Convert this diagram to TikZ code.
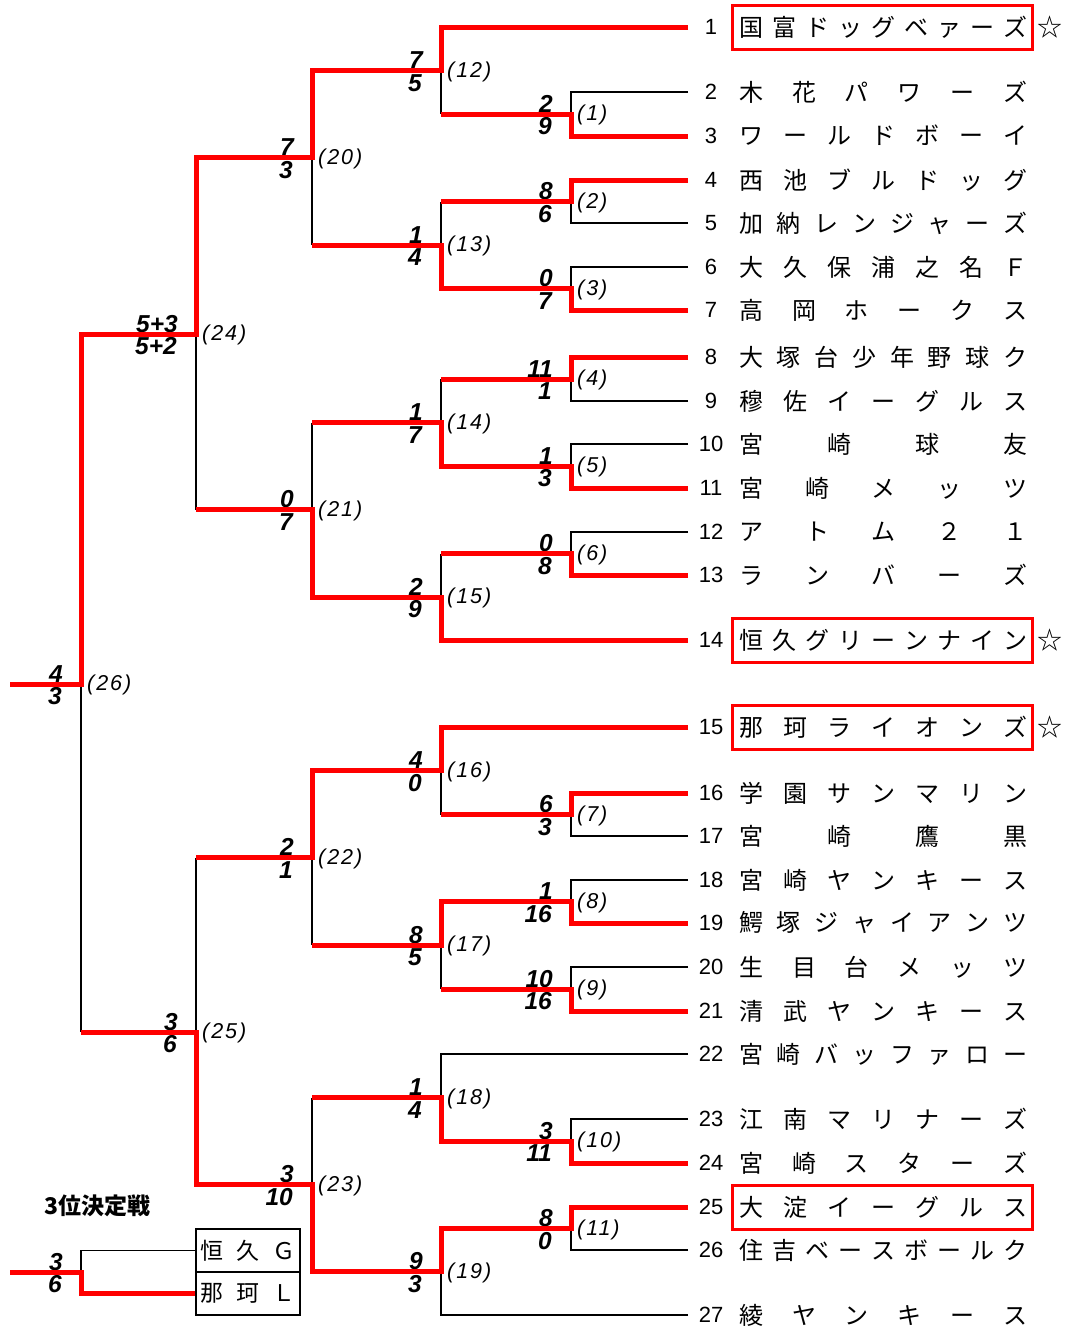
\documentclass[tikz,border=0pt]{standalone}
\usepackage{fontspec}
\setmainfont{Liberation Sans}
\newfontfamily\jp{Noto Sans CJK JP}
\newfontfamily\lblf[LetterSpace=9]{Liberation Sans}
\usetikzlibrary{calc}
\makeatletter
\def\spr@first#1{#1\spr@rest}
\def\spr@rest#1{\ifx\relax#1\else\hfill#1\expandafter\spr@rest\fi}
\newcommand\spreadtext[2]{\makebox[#1][s]{\vphantom{国}\expandafter\spr@first#2\relax}}
\makeatother
\begin{document}
\begin{tikzpicture}[x=1pt,y=-1pt,
 win/.style={draw=red, line width=5pt, line join=miter},
 lose/.style={draw=black, line width=1.1pt},
 team/.style={anchor=west, inner sep=0pt, font=\jp\fontsize{24}{26}\selectfont},
 num/.style={inner sep=0pt, font=\fontsize{22}{24}\selectfont},
 sc/.style={inner sep=0pt, font=\fontsize{24.5}{26}\selectfont\bfseries\itshape},
 lbl/.style={inner sep=0pt, font=\lblf\fontsize{21.5}{24}\selectfont\itshape},
 hl/.style={draw=red, line width=3pt},
 star/.style={inner sep=0pt, font=\jp\fontsize{25}{28}\selectfont},
 cell/.style={draw, line width=1.1pt, minimum width=104pt, minimum height=43pt, inner sep=0pt, font=\jp\fontsize{23}{26}\selectfont},
 ttl/.style={inner sep=0pt, font=\jp\bfseries\fontsize{23}{26}\selectfont}
]
\fill[white] (0,0) rectangle (1067,1328);
\useasboundingbox (0,0) rectangle (1067,1328);

% teams
\foreach \i/\y/\nm in {1/27/国富ドッグベァーズ, 2/92/木花パワーズ, 3/136/ワールドボーイ,
  4/180/西池ブルドッグ, 5/223/加納レンジャーズ, 6/267/大久保浦之名Ｆ, 7/310/高岡ホークス,
  8/357/大塚台少年野球ク, 9/401/穆佐イーグルス, 10/444/宮崎球友, 11/488/宮崎メッツ,
  12/532/アトム２１, 13/575/ランバーズ, 14/640/恒久グリーンナイン, 15/727/那珂ライオンズ,
  16/793/学園サンマリン, 17/836/宮崎鷹黒, 18/880/宮崎ヤンキース, 19/923/鰐塚ジャイアンツ,
  20/967/生目台メッツ, 21/1011/清武ヤンキース, 22/1054/宮崎バッファロー, 23/1119/江南マリナーズ,
  24/1163/宮崎スターズ, 25/1207/大淀イーグルス, 26/1250/住吉ベースボールク, 27/1315/綾ヤンキース}{
  \coordinate (t\i) at (688,\y);
  \node[num] (k\i) at (711,\y) {\i};
  \node[team] (n\i) at (739,\y) {\spreadtext{288pt}{\nm}};
}
\foreach \i in {1,14,15,25}{
  \draw[hl] ($(n\i.west)+(-7,-22)$) rectangle ($(n\i.east)+(5,22)$);
}
\foreach \i in {1,14,15}{
  \node[star] (s\i) at ($(n\i.east)+(23,0)$) {☆};
}

% junctions
\coordinate (m1) at (571,114);
\coordinate (m2) at (571,201.5);
\coordinate (m3) at (571,288.5);
\coordinate (m4) at (571,379);
\coordinate (m5) at (571,466);
\coordinate (m6) at (571,553.5);
\coordinate (m7) at (571,814.5);
\coordinate (m8) at (571,901.5);
\coordinate (m9) at (571,989);
\coordinate (m10) at (571,1141);
\coordinate (m11) at (571,1228.5);
\coordinate (m12) at (441,70.5);
\coordinate (m13) at (441,245);
\coordinate (m14) at (441,422.5);
\coordinate (m15) at (441,597);
\coordinate (m16) at (441,770.5);
\coordinate (m17) at (441,945);
\coordinate (m18) at (441,1097.5);
\coordinate (m19) at (441,1271.5);
\coordinate (m20) at (312,157.5);
\coordinate (m21) at (312,509.5);
\coordinate (m22) at (312,857.5);
\coordinate (m23) at (312,1184.5);
\coordinate (m24) at (196,334);
\coordinate (m25) at (196,1032);
\coordinate (m26) at (81,684);
\coordinate (m27) at (81,1272);
\coordinate (fin) at (10,684);
\coordinate (fin3) at (10,1272);

% third place
\node[cell] (g1) at (248,1250.5) {\spreadtext{96pt}{恒久Ｇ}};
\node[cell] (g2) at (248,1293.5) {\spreadtext{96pt}{那珂Ｌ}};
\node[ttl] (ttl) at (97.5,1206) {3位決定戦};

% scores
\foreach \m/\a/\b in {1/2/9, 2/8/6, 3/0/7, 4/11/1, 5/1/3, 6/0/8, 7/6/3, 8/1/16, 9/10/16,
  10/3/11, 11/8/0, 12/7/5, 13/1/4, 14/1/7, 15/2/9, 16/4/0, 17/8/5, 18/1/4, 19/9/3,
  20/7/3, 21/0/7, 22/2/1, 23/3/10, 24/5+3/5+2, 25/3/6, 26/4/3, 27/3/6}{
  \node[sc, anchor=south east] (sa\m) at ($(m\m)+(-18,-1.5)$) {\a};
  \node[sc, anchor=north east] (sb\m) at ($(m\m)+(-19,3.5)$) {\b};
}
\foreach \m in {1,...,26}{
  \node[lbl, anchor=west] (lb\m) at ($(m\m)+(6,1)$) {(\m)};
}

% losing lines
\draw[lose] (t2) -| (m1);
\draw[lose] (t5) -| (m2);
\draw[lose] (t6) -| (m3);
\draw[lose] (t9) -| (m4);
\draw[lose] (t10) -| (m5);
\draw[lose] (t12) -| (m6);
\draw[lose] (t17) -| (m7);
\draw[lose] (t18) -| (m8);
\draw[lose] (t20) -| (m9);
\draw[lose] (t23) -| (m10);
\draw[lose] (t26) -| (m11);
\draw[lose] (t22) -| (m18);
\draw[lose] (t27) -| (m19);
\draw[lose] (m1 -| m12) -- (m12);
\draw[lose] (m2 -| m13) -- (m13);
\draw[lose] (m4 -| m14) -- (m14);
\draw[lose] (m6 -| m15) -- (m15);
\draw[lose] (m7 -| m16) -- (m16);
\draw[lose] (m9 -| m17) -- (m17);
\draw[lose] (m13 -| m20) -- (m20);
\draw[lose] (m14 -| m21) -- (m21);
\draw[lose] (m17 -| m22) -- (m22);
\draw[lose] (m18 -| m23) -- (m23);
\draw[lose] (m21 -| m24) -- (m24);
\draw[lose] (m22 -| m25) -- (m25);
\draw[lose] (m25 -| m26) -- (m26);
\draw[lose] (g1.west) -| (m27);

% winning lines
\draw[win] (t1) -| (m12) -| (m20) -| (m24) -| (m26) -- (fin);
\draw[win] (t3) -| (m1) -- (m1 -| m12);
\draw[win] (t4) -| (m2) -- (m2 -| m13);
\draw[win] (t7) -| (m3) -| (m13) -- (m13 -| m20);
\draw[win] (t8) -| (m4) -- (m4 -| m14);
\draw[win] (t11) -| (m5) -| (m14) -- (m14 -| m21);
\draw[win] (t13) -| (m6) -- (m6 -| m15);
\draw[win] (t14) -| (m15) -| (m21) -- (m21 -| m24);
\draw[win] (t15) -| (m16) -| (m22) -- (m22 -| m25);
\draw[win] (t16) -| (m7) -- (m7 -| m16);
\draw[win] (t19) -| (m8) -| (m17) -- (m17 -| m22);
\draw[win] (t21) -| (m9) -- (m9 -| m17);
\draw[win] (t24) -| (m10) -| (m18) -- (m18 -| m23);
\draw[win] (t25) -| (m11) -| (m19) -| (m23) -| (m25) -- (m25 -| m26);
\draw[win] (g2.west) -| (m27) -- (fin3);
\end{tikzpicture}
\end{document}
